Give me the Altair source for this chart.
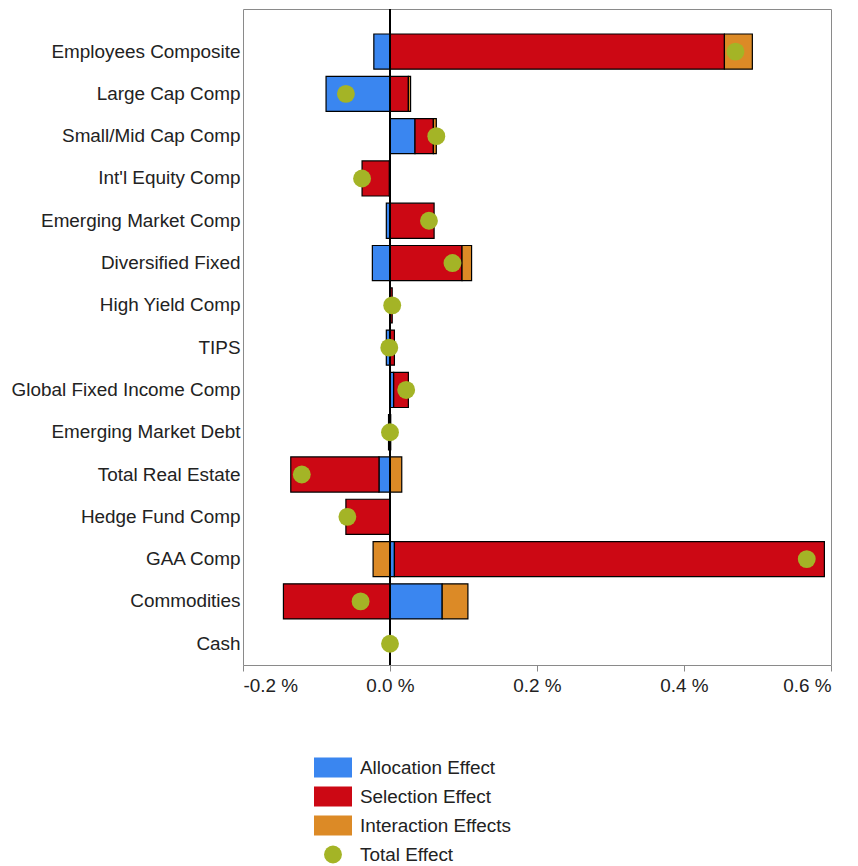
import altair as alt
import pandas as pd

categories = ["Employees Composite", "Large Cap Comp", "Small/Mid Cap Comp", "Int'l Equity Comp",
              "Emerging Market Comp", "Diversified Fixed", "High Yield Comp", "TIPS",
              "Global Fixed Income Comp", "Emerging Market Debt", "Total Real Estate",
              "Hedge Fund Comp", "GAA Comp", "Commodities", "Cash"]

allocation = [-0.022, -0.087, 0.034, -0.001, -0.005, -0.024, 0.0, -0.005, 0.005, -0.002, -0.015, 0.0, 0.006, 0.071, 0.0]
selection = [0.455, 0.025, 0.025, -0.037, 0.060, 0.098, 0.003, 0.006, 0.020, 0.001, -0.120, -0.060, 0.585, -0.145, 0.0]
interaction = [0.038, 0.003, 0.004, 0.0, 0.0, 0.013, 0.0, 0.0, 0.0, 0.0, 0.016, 0.0, -0.023, 0.035, 0.0]
total = [0.470, -0.060, 0.063, -0.038, 0.053, 0.085, 0.003, -0.001, 0.022, 0.000, -0.120, -0.058, 0.567, -0.040, 0.000]

effects = ["Allocation Effect", "Selection Effect", "Interaction Effects"]
effect_colors = ["#3a86f0", "#cc0814", "#dc8a26"]
total_label = "Total Effect"
total_color = "#a4b426"
x_ticks = [-0.2, 0.0, 0.2, 0.4, 0.6]

FONT = "Liberation Sans"
FS = 18.9

rows = []
for i, c in enumerate(categories):
    for k, (name, vals) in enumerate(zip(effects, [allocation, selection, interaction])):
        rows.append({"category": c, "effect": name, "value": vals[i], "ord": k})
bars_df = pd.DataFrame(rows)
total_df = pd.DataFrame({"category": categories, "total": total})

yscale = alt.Scale(paddingInner=0.17, paddingOuter=0.34, align=0.87)
y_enc = alt.Y("category:N", sort=categories, scale=yscale,
              axis=alt.Axis(title=None, ticks=False, domain=False, grid=False,
                            labelFont=FONT, labelFontSize=FS, labelColor="#222",
                            labelPadding=3, labelLimit=400, minExtent=230, maxExtent=230))

xscale = alt.Scale(domain=[-0.2, 0.6], nice=False, zero=False)
x_axis = alt.Axis(title=None, values=x_ticks, grid=False, domain=False,
                  ticks=True, tickSize=6, tickColor="#888",
                  labelFont=FONT, labelFontSize=FS, labelColor="#222", labelPadding=5,
                  labelExpr="(datum.value < 0 ? '-' : '') + format(abs(datum.value), '.1f') + ' %'",
                  minExtent=35, maxExtent=35)

bars = alt.Chart(bars_df).transform_filter("datum.value != 0").mark_bar(
    stroke="black", strokeWidth=1.2
).encode(
    x=alt.X("value:Q", stack="zero", scale=xscale, axis=x_axis),
    y=y_enc,
    color=alt.Color("effect:N", scale=alt.Scale(domain=effects, range=effect_colors), legend=None),
    order=alt.Order("ord:Q", sort="ascending"),
)

zero_rule = alt.Chart(total_df).mark_rule(color="black", strokeWidth=1).encode(
    x=alt.datum(0)
)

dots = alt.Chart(total_df).mark_circle(size=320, color=total_color, opacity=1).encode(
    x=alt.X("total:Q", scale=xscale),
    y=alt.Y("category:N", sort=categories, scale=yscale),
)

main = alt.layer(bars, zero_rule, dots).properties(
    width=588, height=656,
    view=alt.ViewBackground(stroke="#8a8a8a", strokeWidth=1, fill="white"),
)

legend_labels = effects + [total_label]
legend_df = pd.DataFrame({"label": legend_labels})

lg_y = alt.Y("label:N", sort=legend_labels, axis=None,
             scale=alt.Scale(paddingInner=0, paddingOuter=0))

lg_rects = alt.Chart(legend_df).transform_filter(f"datum.label != '{total_label}'").mark_point(
    shape="M-1.9,-1H1.9V1H-1.9Z", size=400, filled=True, opacity=1, strokeWidth=0
).encode(
    x=alt.value(90), y=lg_y,
    color=alt.Color("label:N", scale=alt.Scale(domain=effects, range=effect_colors), legend=None),
)

lg_dot = alt.Chart(legend_df).transform_filter(f"datum.label == '{total_label}'").mark_circle(
    size=320, opacity=1, color=total_color
).encode(x=alt.value(90), y=lg_y)

lg_text = alt.Chart(legend_df).mark_text(
    align="left", baseline="middle", font=FONT, fontSize=FS, color="#222"
).encode(x=alt.value(117), y=lg_y, text="label:N")

legend_chart = alt.layer(lg_rects, lg_dot, lg_text).properties(
    width=300, height=116,
    view=alt.ViewBackground(stroke=None),
)

chart = alt.vconcat(main, legend_chart, spacing=52).properties(
    padding={"left": 2, "top": 0, "right": 0, "bottom": 0},
    background="white",
)

chart.save("out.html", embed_options={"renderer": "svg", "actions": False})
